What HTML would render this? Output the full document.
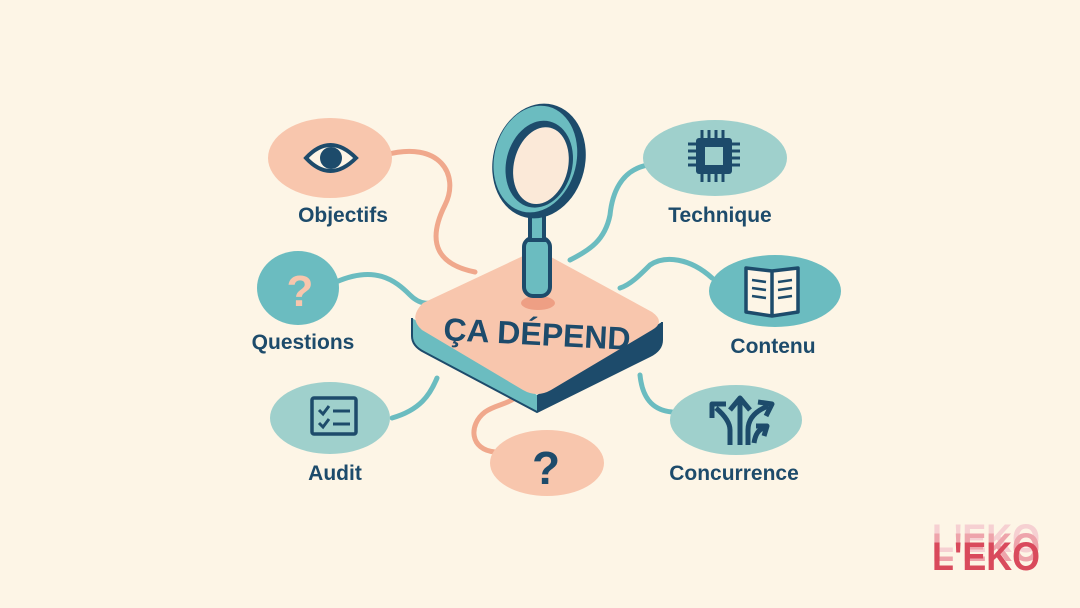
<!DOCTYPE html>
<html><head><meta charset="utf-8"><style>
html,body{margin:0;padding:0;background:#fdf5e6;}
svg{display:block}
text{font-family:"Liberation Sans",sans-serif;font-weight:bold;fill:#1d4b6b}
</style></head><body>
<svg width="1080" height="608" viewBox="0 0 1080 608">
<rect width="1080" height="608" fill="#fdf5e6"/>
<g fill="none" stroke-width="5" stroke-linecap="round">
<path d="M385 155 C440 140 460 175 445 205 C425 245 440 265 475 272" stroke="#f0a88c"/>
<path d="M336 282 C375 265 395 280 410 295 C420 305 430 305 440 300" stroke="#6bbcc0"/>
<path d="M392 418 C420 410 430 395 437 378" stroke="#6bbcc0"/>
<path d="M495 452 C470 450 468 425 485 412 C495 405 505 405 515 398" stroke="#f0a88c"/>
<path d="M648 165 C620 170 612 195 610 215 C605 240 590 250 570 260" stroke="#6bbcc0"/>
<path d="M712 278 C690 258 665 255 650 265 C640 275 630 285 620 288" stroke="#6bbcc0"/>
<path d="M672 412 C650 410 642 395 640 375" stroke="#6bbcc0"/>
</g>
<path d="M412 318 L412 336 Q412 346 424 352 L537 412 L537 395 Z" fill="#6bbcc0"/>
<path d="M537 412 L650 356 Q662 350 662 340 L662 322 L537 395 Z" fill="#1d4b6b"/>
<path d="M423 303 L523 256 Q537 250 551 257 L652 312 Q666 322 652 330 L551 390 Q537 398 523 390 L422 330 Q408 318 423 303 Z" fill="#f8c6ad"/>
<path d="M412 318 L412 336 Q412 346 424 352 L537 412 L650 356 Q662 350 662 340 L662 322" fill="none" stroke="#1d4b6b" stroke-width="2"/>
<ellipse cx="538" cy="303" rx="17" ry="7" fill="#ee9f84"/>
<text x="537" y="345" font-size="32" text-anchor="middle" transform="rotate(3 537 335)">ÇA DÉPEND</text>
<rect x="524" y="238" width="26" height="58" rx="9" fill="#6bbcc0" stroke="#1d4b6b" stroke-width="4"/>
<rect x="530" y="210" width="14" height="30" fill="#6bbcc0" stroke="#1d4b6b" stroke-width="4"/>
<g transform="rotate(14 539 161)">
<ellipse cx="539" cy="161" rx="46" ry="58" fill="#1d4b6b"/>
<ellipse cx="535" cy="160" rx="41" ry="54" fill="#6bbcc0"/>
<ellipse cx="540" cy="164" rx="33" ry="44" fill="#1d4b6b"/>
<ellipse cx="542" cy="165" rx="27" ry="39" fill="#fbe9d8"/>
</g>
<ellipse cx="330" cy="158" rx="62" ry="40" fill="#f8c6ad"/>
<path d="M306 158 Q330 132 356 158 Q330 184 306 158 Z" fill="#fdf5e6" stroke="#1d4b6b" stroke-width="4"/>
<circle cx="331" cy="158" r="11" fill="#1d4b6b"/>
<text x="343" y="222" font-size="21" text-anchor="middle">Objectifs</text>
<ellipse cx="298" cy="288" rx="41" ry="37" fill="#6bbcc0"/>
<text x="300" y="306" font-size="44" text-anchor="middle" style="fill:#f8c6ad">?</text>
<text x="303" y="349" font-size="21" text-anchor="middle">Questions</text>
<ellipse cx="330" cy="418" rx="60" ry="36" fill="#9fd0cc"/>
<rect x="312" y="398" width="44" height="36" rx="2" fill="none" stroke="#1d4b6b" stroke-width="3.5"/>
<path d="M319 410 l4 4 l6 -8 M319 423 l4 4 l6 -8 M333 411 h17 M333 424 h17" fill="none" stroke="#1d4b6b" stroke-width="3"/>
<text x="335" y="480" font-size="21" text-anchor="middle">Audit</text>
<ellipse cx="547" cy="463" rx="57" ry="33" fill="#f8c6ad"/>
<text x="546" y="484" font-size="46" text-anchor="middle">?</text>
<ellipse cx="715" cy="158" rx="72" ry="38" fill="#9fd0cc"/>
<rect x="696" y="138" width="36" height="36" rx="3" fill="#1d4b6b"/>
<rect x="705" y="147" width="18" height="18" fill="#9fd0cc"/>
<path d="M702 130v8M709 130v8M716 130v8M723 130v8M702 174v8M709 174v8M716 174v8M723 174v8M688 144h8M688 151h8M688 158h8M688 165h8M732 144h8M732 151h8M732 158h8M732 165h8" stroke="#1d4b6b" stroke-width="3"/>
<text x="720" y="222" font-size="21" text-anchor="middle">Technique</text>
<ellipse cx="775" cy="291" rx="66" ry="36" fill="#6bbcc0"/>
<path d="M746 268 L772 271 L772 316 L746 312 Z M798 268 L772 271 L772 316 L798 312 Z" fill="#fdf5e6" stroke="#1d4b6b" stroke-width="3.5" stroke-linejoin="round"/>
<path d="M752 280l14 2M752 288l14 2M752 296l14 2M778 282l14-2M778 290l14-2M778 298l14-2" stroke="#1d4b6b" stroke-width="2.5"/>
<text x="773" y="353" font-size="21" text-anchor="middle">Contenu</text>
<ellipse cx="736" cy="420" rx="66" ry="35" fill="#9fd0cc"/>
<g fill="none" stroke="#1d4b6b" stroke-width="5" stroke-linejoin="round">
<path d="M740 445 V400 M730 410 L740 398 L750 410"/>
<path d="M730 445 V430 Q730 420 716 408 M712 418 L712 404 L726 404"/>
<path d="M748 445 V430 Q748 414 768 406 M758 402 L772 404 L766 416"/>
<path d="M754 443 Q756 430 764 428 M756 426 L767 426 L764 436"/>
</g>
<text x="734" y="480" font-size="21" text-anchor="middle">Concurrence</text>
<g font-size="40" style="font-family:'Liberation Sans',sans-serif;font-weight:bold">
<text x="932" y="552" textLength="108" lengthAdjust="spacingAndGlyphs" style="fill:#f6d0d2">L'EKO</text>
<text x="932" y="561" textLength="108" lengthAdjust="spacingAndGlyphs" style="fill:#eea4ab">L'EKO</text>
<text x="932" y="570" textLength="108" lengthAdjust="spacingAndGlyphs" style="fill:#d94a5c">L'EKO</text>
</g>
</svg>
</body></html>
